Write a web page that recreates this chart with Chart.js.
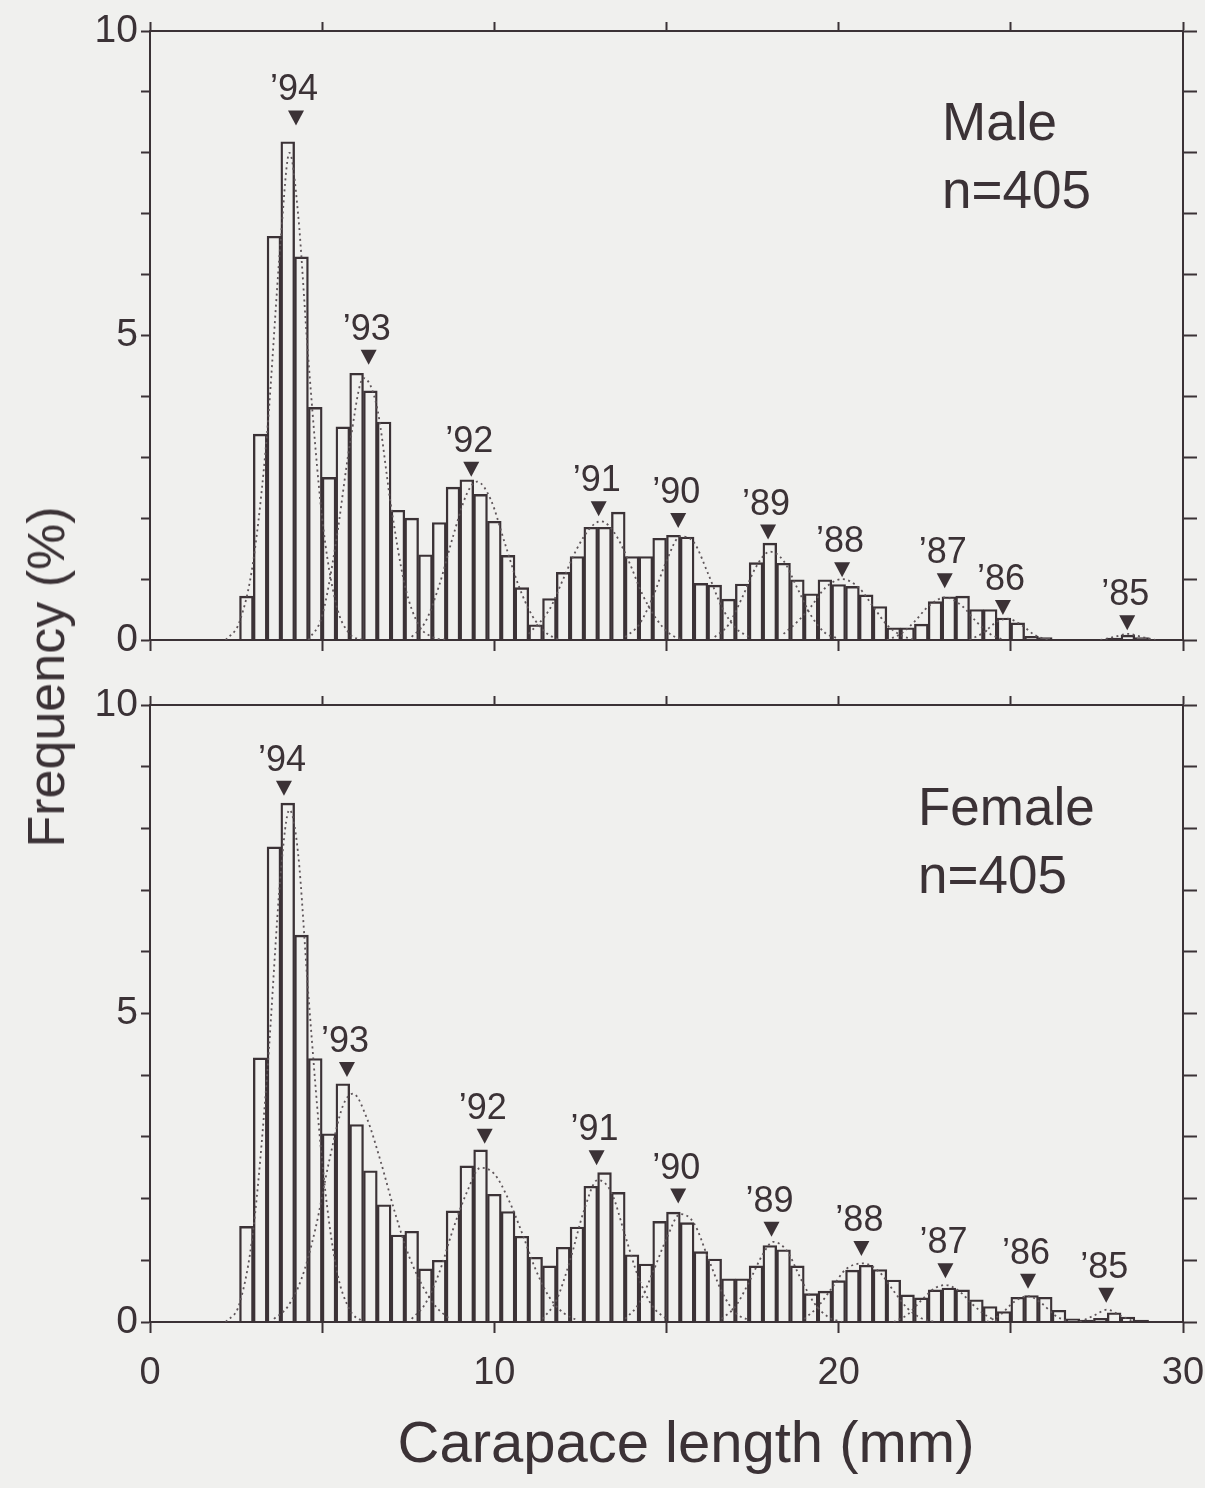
<!DOCTYPE html>
<html>
<head>
<meta charset="utf-8">
<title>Carapace length frequency</title>
<script src="https://cdn.jsdelivr.net/npm/chart.js@4.4.1/dist/chart.umd.min.js"></script>
<style>
  html, body { margin: 0; padding: 0; background: #f0f0ee; }
  body {
    width: 1205px; height: 1488px; position: relative; overflow: hidden;
    font-family: "Liberation Sans", Arial, sans-serif; color: #3b3236;
  }
  canvas { position: absolute; left: 0; }
  #maleChart { top: 0; }
  #femaleChart { top: 660px; }
  .lbl { position: absolute; font-size: 53px; line-height: 53px; white-space: nowrap; }
  #yTitle {
    position: absolute; left: 46px; top: 677px; font-size: 52px; line-height: 52px;
    white-space: nowrap; transform: translate(-50%, -50%) rotate(-90deg);
  }
  #xTitle {
    position: absolute; left: 686px; top: 1442px; font-size: 58px; line-height: 58px;
    white-space: nowrap; transform: translate(-50%, -50%);
  }
</style>
</head>
<body>
<canvas id="maleChart" width="1205" height="690"></canvas>
<canvas id="femaleChart" width="1205" height="828"></canvas>

<div class="lbl" style="left:942px; top:95px;">Male</div>
<div class="lbl" style="left:942px; top:163px;">n=405</div>
<div class="lbl" style="left:918px; top:780px;">Female</div>
<div class="lbl" style="left:918px; top:848px;">n=405</div>
<div id="yTitle">Frequency (%)</div>
<div id="xTitle">Carapace length (mm)</div>

<script>
// bin centres (mm), 0.4 mm classes
const binCenters = [
  2.8, 3.2, 3.6, 4.0, 4.4, 4.8, 5.2, 5.6, 6.0, 6.4,
  6.8, 7.2, 7.6, 8.0, 8.4, 8.8, 9.2, 9.6, 10.0, 10.4,
  10.8, 11.2, 11.6, 12.0, 12.4, 12.8, 13.2, 13.6, 14.0, 14.4,
  14.8, 15.2, 15.6, 16.0, 16.4, 16.8, 17.2, 17.6, 18.0, 18.4,
  18.8, 19.2, 19.6, 20.0, 20.4, 20.8, 21.2, 21.6, 22.0, 22.4,
  22.8, 23.2, 23.6, 24.0, 24.4, 24.8, 25.2, 25.6, 26.0, 26.4,
  26.8, 27.2, 27.6, 28.0, 28.4, 28.8, 29.2
];

// frequency (%)
const maleFreq = [
  0.72, 3.38, 6.63, 8.18, 6.29, 3.82, 2.67, 3.50, 4.38, 4.09,
  3.58, 2.13, 2.00, 1.40, 1.93, 2.51, 2.63, 2.39, 1.95, 1.39,
  0.86, 0.25, 0.68, 1.11, 1.37, 1.85, 1.85, 2.10, 1.37, 1.37,
  1.67, 1.72, 1.69, 0.93, 0.90, 0.67, 0.92, 1.27, 1.59, 1.26,
  0.99, 0.76, 0.99, 0.91, 0.88, 0.74, 0.55, 0.20, 0.20, 0.26,
  0.63, 0.71, 0.72, 0.50, 0.50, 0.36, 0.28, 0.06, 0.04, 0,
  0, 0, 0, 0.03, 0.08, 0.04, 0
];

const femaleFreq = [
  1.55, 4.28, 7.70, 8.41, 6.27, 4.27, 3.05, 3.86, 3.20, 2.45,
  1.90, 1.41, 1.47, 0.86, 1.00, 1.80, 2.53, 2.79, 2.07, 1.79,
  1.39, 1.05, 0.91, 1.21, 1.54, 2.20, 2.42, 2.10, 1.09, 0.94,
  1.63, 1.78, 1.61, 1.14, 1.02, 0.70, 0.70, 0.91, 1.24, 1.17,
  0.91, 0.46, 0.50, 0.67, 0.84, 0.92, 0.85, 0.68, 0.44, 0.39,
  0.52, 0.55, 0.52, 0.36, 0.25, 0.17, 0.40, 0.43, 0.40, 0.19,
  0.05, 0.03, 0.06, 0.15, 0.08, 0.03, 0
];

// year classes and their marker positions (mm, %)
const cohortLabels = ['\u201994', '\u201993', '\u201992', '\u201991', '\u201990', '\u201989', '\u201988', '\u201987', '\u201986', '\u201985'];
const maleCohortX = [4.24, 6.35, 9.33, 13.03, 15.34, 17.95, 20.1, 23.08, 24.77, 28.38];
const maleMarkY = [8.45, 4.52, 2.68, 2.03, 1.84, 1.65, 1.03, 0.85, 0.41, 0.16];
const femaleCohortX = [3.89, 5.72, 9.72, 12.97, 15.34, 18.05, 20.66, 23.1, 25.5, 27.77];
const femaleMarkY = [8.53, 3.97, 2.89, 2.54, 1.92, 1.38, 1.07, 0.71, 0.54, 0.31];

// dotted component curves [mm, %]
const maleCurves = [
  [[2.2,0],[2.6,0.3],[3.0,1.3],[3.4,3.4],[3.8,6.6],[4.05,8.0],[4.3,7.0],[4.6,4.6],[5.0,2.0],[5.4,0.6],[5.8,0.1],[6.2,0]],
  [[4.6,0],[5.0,0.4],[5.4,1.6],[5.8,3.2],[6.2,4.3],[6.6,3.8],[7.0,2.2],[7.4,0.9],[7.8,0.25],[8.2,0.05],[8.6,0]],
  [[7.6,0.05],[8.0,0.3],[8.4,0.9],[8.8,1.7],[9.2,2.4],[9.5,2.6],[9.9,2.3],[10.3,1.6],[10.7,0.9],[11.1,0.4],[11.5,0.12],[11.9,0]],
  [[11.0,0.1],[11.6,0.5],[12.0,1.0],[12.4,1.5],[12.8,1.85],[13.1,1.95],[13.5,1.75],[13.9,1.3],[14.3,0.75],[14.7,0.35],[15.1,0.1],[15.5,0]],
  [[13.8,0.05],[14.2,0.25],[14.6,0.7],[15.0,1.3],[15.4,1.7],[15.8,1.6],[16.2,1.1],[16.6,0.55],[17.0,0.2],[17.4,0.05]],
  [[16.4,0.05],[16.8,0.25],[17.2,0.7],[17.6,1.2],[18.0,1.45],[18.4,1.3],[18.8,0.85],[19.2,0.4],[19.6,0.12],[20.0,0.02]],
  [[18.4,0.1],[18.8,0.3],[19.2,0.55],[19.6,0.85],[20.1,1.0],[20.6,0.85],[21.0,0.55],[21.4,0.25],[21.8,0.08],[22.2,0]],
  [[21.4,0],[21.8,0.1],[22.2,0.3],[22.6,0.55],[23.1,0.7],[23.6,0.55],[24.0,0.3],[24.4,0.1],[24.8,0]],
  [[23.8,0],[24.2,0.12],[24.6,0.3],[24.9,0.35],[25.3,0.25],[25.7,0.08],[26.1,0]],
  [[27.6,0],[28.0,0.05],[28.4,0.1],[28.8,0.05],[29.2,0]]
];

const femaleCurves = [
  [[2.2,0],[2.6,0.3],[3.0,1.5],[3.4,4.0],[3.8,7.3],[4.05,8.3],[4.3,7.6],[4.6,5.3],[5.0,2.6],[5.4,0.9],[5.8,0.2],[6.2,0]],
  [[3.6,0.05],[4.0,0.25],[4.4,0.7],[4.8,1.5],[5.2,2.6],[5.6,3.5],[5.9,3.7],[6.3,3.3],[6.7,2.6],[7.1,1.8],[7.5,1.1],[7.9,0.6],[8.3,0.25],[8.7,0.05]],
  [[7.6,0.05],[8.0,0.3],[8.4,0.8],[8.8,1.5],[9.2,2.1],[9.6,2.5],[10.0,2.4],[10.4,2.0],[10.8,1.45],[11.2,0.85],[11.6,0.4],[12.0,0.15],[12.4,0.03]],
  [[11.4,0.05],[11.8,0.35],[12.2,1.0],[12.6,1.8],[13.0,2.3],[13.4,2.1],[13.8,1.4],[14.2,0.7],[14.6,0.25],[15.0,0.05]],
  [[13.8,0.05],[14.2,0.3],[14.6,0.8],[15.0,1.35],[15.4,1.75],[15.8,1.6],[16.2,1.05],[16.6,0.5],[17.0,0.15],[17.4,0.03]],
  [[16.6,0.05],[17.0,0.25],[17.4,0.65],[17.8,1.1],[18.1,1.3],[18.5,1.15],[18.9,0.7],[19.3,0.3],[19.7,0.08],[20.1,0]],
  [[19.0,0.05],[19.4,0.25],[19.8,0.55],[20.2,0.85],[20.7,0.95],[21.2,0.8],[21.6,0.5],[22.0,0.22],[22.4,0.06],[22.8,0]],
  [[21.6,0],[22.0,0.12],[22.4,0.35],[22.8,0.55],[23.1,0.6],[23.5,0.5],[23.9,0.28],[24.3,0.1],[24.7,0]],
  [[24.3,0],[24.7,0.12],[25.1,0.33],[25.5,0.42],[25.9,0.3],[26.3,0.1],[26.7,0]],
  [[27.0,0],[27.4,0.1],[27.8,0.2],[28.2,0.1],[28.6,0]]
];

const INK = '#3b3236';
const FONT = '"Liberation Sans", Arial, sans-serif';

// year-class triangles + labels
const cohortMarks = {
  id: 'cohortMarks',
  afterDatasetsDraw(chart, args, opts) {
    const { ctx, scales: { x, y } } = chart;
    ctx.save();
    ctx.fillStyle = INK;
    ctx.font = '36px ' + FONT;
    ctx.textAlign = 'center';
    ctx.textBaseline = 'alphabetic';
    opts.xs.forEach((v, i) => {
      const px = x.getPixelForValue(v);
      const py = y.getPixelForValue(opts.ys[i]);
      ctx.beginPath();
      ctx.moveTo(px - 8, py - 15);
      ctx.lineTo(px + 8, py - 15);
      ctx.lineTo(px, py);
      ctx.closePath();
      ctx.fill();
      ctx.fillText(cohortLabels[i], px - 2, py - 25);
    });
    ctx.restore();
  }
};

function edgeGrid(len) {
  return {
    display: true, drawOnChartArea: false, drawTicks: true,
    tickLength: len, tickWidth: 2, tickColor: INK, offset: false
  };
}

function makePanel(canvas, freq, curves, markX, markY, topH, bottomH, showXLabels) {
  const datasets = [{
    type: 'bar',
    data: binCenters.map((c, i) => ({ x: c, y: freq[i] })),
    backgroundColor: 'rgba(0,0,0,0)',
    borderColor: INK,
    borderWidth: 1.7,
    barPercentage: 1,
    categoryPercentage: 1,
    order: 2
  }];
  curves.forEach(pts => {
    datasets.push({
      type: 'line',
      data: pts.map(p => ({ x: p[0], y: p[1] })),
      borderColor: '#5e5559',
      borderWidth: 1.8,
      borderDash: [2, 3.5],
      pointRadius: 0,
      fill: false,
      cubicInterpolationMode: 'monotone',
      order: 1
    });
  });

  return new Chart(canvas, {
    type: 'bar',
    data: { datasets },
    options: {
      responsive: false,
      maintainAspectRatio: false,
      devicePixelRatio: 1,
      animation: false,
      events: [],
      layout: { padding: 0, autoPadding: false },
      plugins: {
        legend: { display: false },
        tooltip: { enabled: false },
        cohortMarks: { xs: markX, ys: markY }
      },
      scales: {
        x: {
          type: 'linear', min: 0, max: 30, position: 'bottom', offset: false,
          grid: edgeGrid(11),
          border: { display: true, color: INK, width: 2 },
          ticks: {
            display: showXLabels, stepSize: 5, autoSkip: false, maxRotation: 0,
            color: INK, font: { size: 38, family: FONT }, padding: 18,
            callback: v => (v % 10 === 0 ? String(v) : '')
          },
          afterFit: s => { s.height = bottomH; s.paddingLeft = 0; s.paddingRight = 0; }
        },
        xTop: {
          type: 'linear', min: 0, max: 30, position: 'top', offset: false,
          grid: edgeGrid(9),
          border: { display: true, color: INK, width: 2 },
          ticks: { display: false, stepSize: 5, autoSkip: false },
          afterFit: s => { s.height = topH; }
        },
        y: {
          min: 0, max: 10, position: 'left',
          grid: edgeGrid(9),
          border: { display: true, color: INK, width: 2 },
          ticks: {
            stepSize: 1, autoSkip: false, color: INK, padding: 3,
            font: { size: 39, family: FONT },
            callback: v => (v % 5 === 0 ? String(v) : '')
          },
          afterFit: s => { s.width = 150; s.paddingTop = 0; s.paddingBottom = 0; }
        },
        yRight: {
          min: 0, max: 10, position: 'right',
          grid: edgeGrid(14),
          border: { display: true, color: INK, width: 2 },
          ticks: { display: false, stepSize: 1, autoSkip: false },
          afterFit: s => { s.width = 22; }
        }
      }
    },
    plugins: [cohortMarks]
  });
}

makePanel(document.getElementById('maleChart'), maleFreq, maleCurves,
  maleCohortX, maleMarkY, 31, 50, false);
makePanel(document.getElementById('femaleChart'), femaleFreq, femaleCurves,
  femaleCohortX, femaleMarkY, 45, 166, true);
</script>
</body>
</html>
